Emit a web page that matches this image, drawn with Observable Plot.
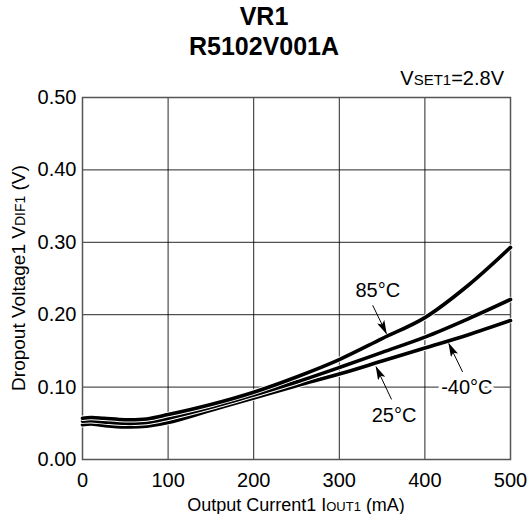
<!DOCTYPE html>
<html>
<head>
<meta charset="utf-8">
<script src="https://cdn.jsdelivr.net/npm/d3@7"></script>
<script src="https://cdn.jsdelivr.net/npm/@observablehq/plot@0.6"></script>
<style>
  html, body { margin: 0; padding: 0; background: #fff; }
  body { width: 528px; height: 514px; overflow: hidden; font-family: "Liberation Sans", Arial, sans-serif; }
  .titles { text-align: center; font-weight: bold; font-size: 25px; line-height: 30px; height: 58px; padding-top: 1px; box-sizing: border-box; color: #000; }
</style>
</head>
<body>
<div class="titles"><div>VR1</div><div>R5102V001A</div></div>
<div id="chart"></div>
<script>
// Output current (mA)
const currents = [0, 10, 25, 50, 75, 100, 150, 200, 250, 300, 350, 400, 450, 500];
// Dropout voltage (V) per temperature
const v85  = [0.057, 0.058, 0.057, 0.055, 0.056, 0.062, 0.076, 0.093, 0.114, 0.138, 0.167, 0.196, 0.240, 0.293];
const v25  = [0.053, 0.0535, 0.052, 0.050, 0.051, 0.057, 0.072, 0.089, 0.107, 0.127, 0.148, 0.169, 0.194, 0.221];
const vm40 = [0.048, 0.049, 0.047, 0.045, 0.046, 0.051, 0.068, 0.085, 0.102, 0.118, 0.136, 0.154, 0.172, 0.192];
const seriesNames = ["85°C", "25°C", "-40°C"];
const xTicks = [0, 100, 200, 300, 400, 500];
const yTicks = [0, 0.1, 0.2, 0.3, 0.4, 0.5];
// annotation labels and arrows (data coordinates)
const labelText = ["85°C", "25°C", "-40°C"];
const labelX = [345, 364, 449];
const labelY = [0.233, 0.061, 0.099];
const arrowX1 = [339, 361, 444];
const arrowY1 = [0.213, 0.083, 0.121];
const arrowX2 = [355, 343, 428];
const arrowY2 = [0.174, 0.128, 0.160];

const seriesVals = [v85, v25, vm40];
const series = seriesNames.map((name, i) => currents.map((c, j) => ({current: c, v: seriesVals[i][j], name})));
const labels = labelText.map((t, i) => ({t, x: labelX[i], y: labelY[i]}));
const arrows = labelText.map((t, i) => ({x1: arrowX1[i], y1: arrowY1[i], x2: arrowX2[i], y2: arrowY2[i]}));

const lineMarks = [];
for (const s of series.slice().reverse()) {
  lineMarks.push(Plot.line(s, {x: "current", y: "v", stroke: "white", strokeWidth: 5.5, curve: "catmull-rom"}));
  lineMarks.push(Plot.line(s, {x: "current", y: "v", stroke: "black", strokeWidth: 3.6, curve: "catmull-rom"}));
}

const chart = Plot.plot({
  width: 528,
  height: 456,
  marginTop: 39,
  marginBottom: 55,
  marginLeft: 82,
  marginRight: 18,
  style: {fontFamily: "'Liberation Sans', Arial, sans-serif", fontSize: "20px", color: "#000", background: "white", overflow: "visible"},
  x: {domain: [0, 500]},
  y: {domain: [0, 0.5]},
  marks: [
    Plot.gridX(xTicks, {stroke: "#000", strokeOpacity: 0.85, strokeWidth: 1}),
    Plot.gridY(yTicks, {stroke: "#000", strokeOpacity: 0.85, strokeWidth: 1}),
    Plot.frame({stroke: "#555", strokeWidth: 1.5}),
    Plot.axisX(xTicks, {tickSize: 0, tickPadding: 13, label: null, fontSize: 20}),
    Plot.axisY(yTicks, {tickSize: 0, tickPadding: 6, label: null, tickFormat: d3.format(".2f"), fontSize: 20}),
    ...lineMarks,
    Plot.text(labels, {x: "x", y: "y", text: "t", fontSize: 20, fill: "black", stroke: "white", strokeWidth: 7}),
    Plot.link(arrows, {x1: "x1", y1: "y1", x2: "x2", y2: "y2", stroke: "black", strokeWidth: 1})
  ]
});

document.getElementById("chart").appendChild(chart);

const svg = d3.select(chart);
// filled arrowheads
const defs = svg.insert("defs", ":first-child");
defs.append("marker")
  .attr("id", "ahead")
  .attr("viewBox", "0 0 14 8")
  .attr("refX", 13).attr("refY", 4)
  .attr("markerWidth", 14).attr("markerHeight", 8)
  .attr("markerUnits", "userSpaceOnUse")
  .attr("orient", "auto")
  .append("path").attr("d", "M0,0L14,4L0,8L3,4Z").attr("fill", "black");
svg.selectAll("g[aria-label='link'] path").attr("marker-end", "url(#ahead)");

const xs = chart.scale("x"), ys = chart.scale("y");
const xMid = (xs.apply(0) + xs.apply(500)) / 2;
const yMid = (ys.apply(0) + ys.apply(0.5)) / 2;
const font = "'Liberation Sans', Arial, sans-serif";

// x axis title
const xt = svg.append("text").attr("x", xMid).attr("y", 456 - 3)
  .attr("text-anchor", "middle").attr("font-family", font).attr("font-size", 18).attr("fill", "black");
xt.append("tspan").text("Output Current1 I");
xt.append("tspan").attr("font-size", 13).text("OUT1");
xt.append("tspan").text(" (mA)");

// y axis title
const yt = svg.append("text").attr("transform", `translate(25,${yMid}) rotate(-90)`)
  .attr("text-anchor", "middle").attr("font-family", font).attr("font-size", 19).attr("fill", "black");
yt.append("tspan").text("Dropout Voltage1 V");
yt.append("tspan").attr("font-size", 14).text("DIF1");
yt.append("tspan").text(" (V)");

// condition label
const ct = svg.append("text").attr("x", xs.apply(500) - 6).attr("y", ys.apply(0.5) - 12)
  .attr("text-anchor", "end").attr("font-family", font).attr("font-size", 20).attr("fill", "black");
ct.append("tspan").text("V");
ct.append("tspan").attr("font-size", 15).text("SET1");
ct.append("tspan").text("=2.8V");
</script>
</body>
</html>
